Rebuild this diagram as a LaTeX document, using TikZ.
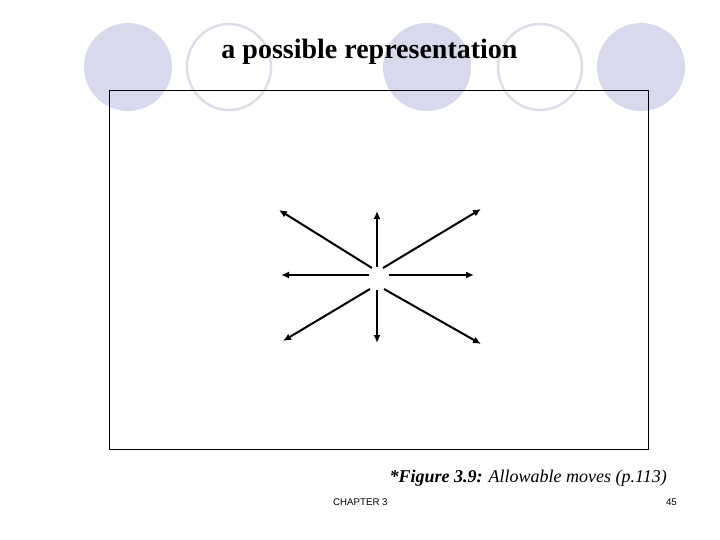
\documentclass[tikz,border=0pt]{standalone}
\usetikzlibrary{arrows.meta}
\usepackage{fontspec}
\setmainfont{Liberation Serif}
\newfontfamily\sansf{Liberation Sans}
\definecolor{lav}{RGB}{217,217,237}
\definecolor{lavline}{RGB}{222,222,234}
\begin{document}
\begin{tikzpicture}[x=1pt,y=-1pt,
  fillcirc/.style={fill=lav,draw=none},
  ringcirc/.style={draw=lavline,line width=2.5pt,fill=none},
  mv/.style={line width=2pt,-{Latex[length=8pt,width=7pt]}},
  frame/.style={draw=black,line width=0.9pt}]
\useasboundingbox (0,0) rectangle (720,540);
\fill[white] (0,0) rectangle (720,540);
% decorative circles
\draw[fillcirc] (128,67) ellipse [x radius=44,y radius=44];
\draw[ringcirc] (229,67) ellipse [x radius=42,y radius=43];
\draw[fillcirc] (427,67) ellipse [x radius=44,y radius=44];
\draw[ringcirc] (540,67) ellipse [x radius=42,y radius=43];
\draw[fillcirc] (641,67) ellipse [x radius=44,y radius=44];
% title
\node[font=\bfseries\fontsize{28}{32}\selectfont,inner sep=0pt,anchor=base] (title) at (369.5,59) {a possible representation};
% frame
\draw[frame] (109,90) rectangle (648,449);
% arrows
\coordinate (s1) at (377,267); \coordinate (e1) at (377,211);
\coordinate (s2) at (377,290); \coordinate (e2) at (377,343);
\coordinate (s3) at (369,275); \coordinate (e3) at (281,275);
\coordinate (s4) at (389,275); \coordinate (e4) at (474,275);
\coordinate (s5) at (372,268); \coordinate (e5) at (279,210);
\coordinate (s6) at (383,268); \coordinate (e6) at (481,209);
\coordinate (s7) at (370,289); \coordinate (e7) at (283,341);
\coordinate (s8) at (384,289); \coordinate (e8) at (481,344);
\foreach \i in {1,...,8} {\draw[mv] (s\i) -- (e\i);}
% caption
\node[inner sep=0pt,anchor=base east,font=\fontsize{18}{21}\selectfont] (cap) at (667,482) {\textbf{\textit{*Figure 3.9:}} \textit{Allowable moves (p.113)}};
\node[inner sep=0pt,anchor=base west,font=\sansf\fontsize{9.7}{11}\selectfont] (chap) at (333,505) {CHAPTER 3};
\node[inner sep=0pt,anchor=base east,font=\sansf\fontsize{9.7}{11}\selectfont] (pg) at (677,505) {45};
\end{tikzpicture}
\end{document}
